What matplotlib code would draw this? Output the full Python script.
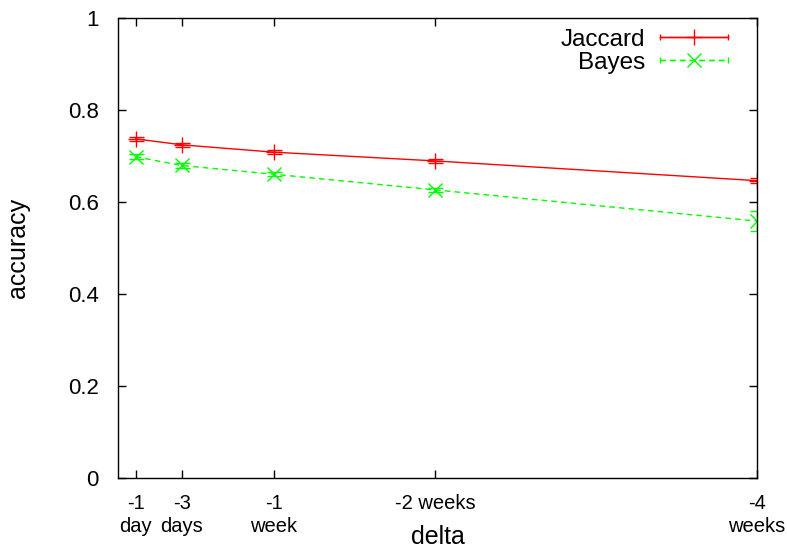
import matplotlib
matplotlib.use("Agg")
import matplotlib.pyplot as plt
from matplotlib.lines import Line2D
from matplotlib.legend_handler import HandlerLine2D

plt.rcParams['font.family'] = ['Liberation Sans', 'DejaVu Sans']

days = [1, 3, 7, 14, 28]
tick_labels = ['-1\nday', '-3\ndays', '-1\nweek', '-2 weeks', '-4\nweeks']
jaccard = [0.737, 0.724, 0.708, 0.689, 0.646]
jaccard_err = [0.005, 0.005, 0.004, 0.004, 0.006]
bayes = [0.698, 0.679, 0.660, 0.626, 0.558]
bayes_err = [0.005, 0.005, 0.004, 0.005, 0.022]

RED = '#ff0000'
GREEN = '#00ff00'

fig = plt.figure(figsize=(7.87, 5.5), dpi=100)
ax = fig.add_axes([118/787, 1-477.5/550, (757-118)/787, (477.5-18)/550])

ax.errorbar(days, jaccard, yerr=jaccard_err, color=RED, marker='+', markersize=11,
            markeredgewidth=1, linewidth=1, elinewidth=1, capsize=5.4, capthick=1)
ax.errorbar(days, bayes, yerr=bayes_err, color=GREEN, marker='x', markersize=10,
            markeredgewidth=1, linewidth=1, linestyle=(0, (4, 3)), elinewidth=1,
            capsize=5.4, capthick=1)

ax.set_xlim(0.23, 28)
ax.set_ylim(0, 1)
ax.set_xticks(days)
ax.set_xticklabels(tick_labels, fontsize=14.5, linespacing=1.25)
ax.set_yticks([0, 0.2, 0.4, 0.6, 0.8, 1.0])
ax.set_yticklabels(['0', '0.2', '0.4', '0.6', '0.8', '1'], fontsize=16)
ax.tick_params(direction='in', top=True, right=True, length=6, width=1)
ax.tick_params(axis='x', pad=12)
ax.tick_params(axis='y', pad=14)
ax.set_xlabel('delta', fontsize=18)
ax.xaxis.set_label_coords(0.5, -0.103)
ax.set_ylabel('accuracy', fontsize=18)
ax.yaxis.set_label_coords(-0.137, 0.5)
for s in ax.spines.values():
    s.set_linewidth(1)

# legend handles mimicking gnuplot error-line keys
j_mark = Line2D([], [], color=RED, marker='+', markersize=11, linewidth=1)
j_caps = Line2D([], [], color=RED, marker='|', markersize=5, linewidth=1)
b_mark = Line2D([], [], color=GREEN, marker='x', markersize=10, linewidth=1, linestyle=(0, (4, 3)))
b_caps = Line2D([], [], color=GREEN, marker='|', markersize=5, linewidth=1, linestyle=(0, (4, 3)))
hm = {j_mark: HandlerLine2D(numpoints=1), b_mark: HandlerLine2D(numpoints=1),
      j_caps: HandlerLine2D(numpoints=2, marker_pad=0), b_caps: HandlerLine2D(numpoints=2, marker_pad=0)}
ax.legend([(j_caps, j_mark), (b_caps, b_mark)], ['Jaccard', 'Bayes'], handler_map=hm,
          loc='upper right', frameon=False, markerfirst=False, fontsize=17.5,
          handlelength=2.8, handletextpad=0.6, labelspacing=0.05,
          borderaxespad=0.0, borderpad=0.0, bbox_to_anchor=(0.955, 0.977))

fig.savefig('out.png', dpi=100)
